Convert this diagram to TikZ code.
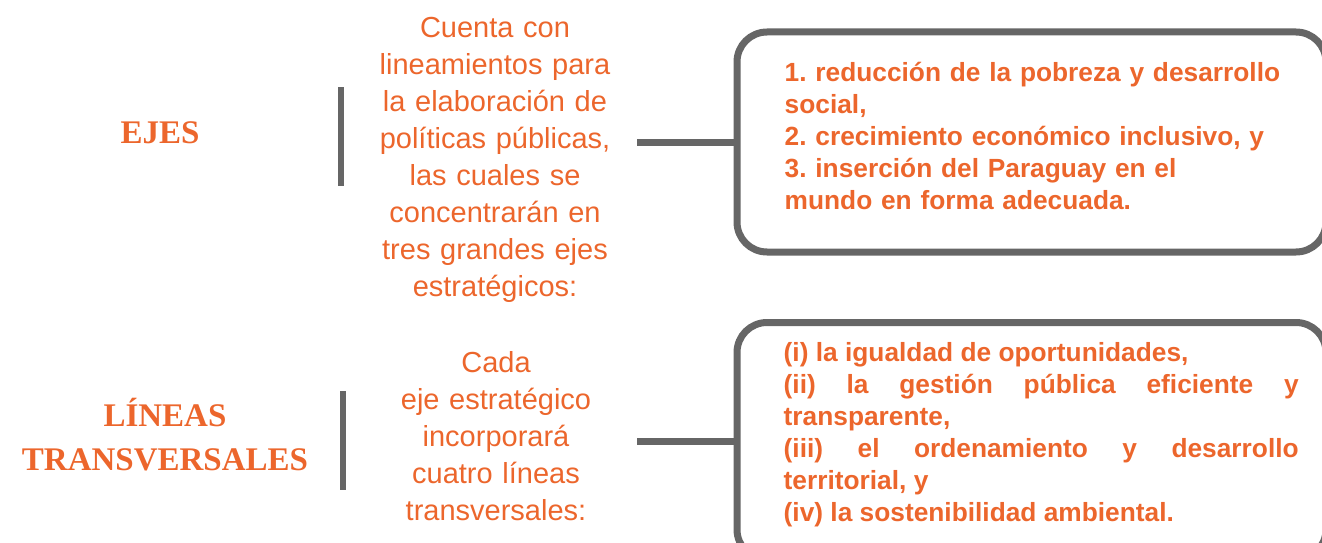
\documentclass[tikz,border=0pt]{standalone}
\usepackage{fontspec}
\setmainfont{Liberation Sans}
\newfontfamily\titlefont{Liberation Serif}
\usetikzlibrary{positioning}
\definecolor{naranja}{RGB}{236,102,44}
\definecolor{gris}{RGB}{102,102,102}
\frenchspacing

\begin{document}
\begin{tikzpicture}[x=1pt, y=-1pt,
    titulo/.style={text=naranja, font=\titlefont\bfseries\fontsize{33}{44}\selectfont, align=center},
    texto/.style={text=naranja, font=\fontsize{29}{37}\selectfont, align=center, text width=240pt, inner sep=0pt},
    lista/.style={text=naranja, font=\bfseries\fontsize{26.3}{32}\selectfont, text width=515pt, inner sep=0pt},
    caja/.style={draw=gris, line width=7pt, rounded corners=30pt, minimum width=589pt},
    barra/.style={draw=gris, line width=6pt},
    conector/.style={draw=gris, line width=7pt}]
  \useasboundingbox (0,0) rectangle (1322,543);
  \node [titulo] (ejes) at (160,133) {EJES};
  \node [titulo] (lineas) at (165,435) {LÍNEAS\\TRANSVERSALES};
  \draw [barra] (341,87) -- (341,186);
  \draw [barra] (343,391) -- (343,490);
  \node [texto] (cuenta) at (495,160) {Cuenta con\\lineamientos para\\la elaboración de\\políticas públicas,\\las cuales se\\concentrarán en\\tres grandes ejes\\estratégicos:};
  \node [texto] (cada) at (496,436) {Cada\\eje estratégico\\incorporará\\cuatro líneas\\transversales:};
  \node [caja, minimum height=220pt] (ejesbox) at (1031.5,142) {};
  \node [caja, minimum height=237pt] (lineasbox) at (1031.5,441) {};
  \node [lista, align=left, right=51pt of ejesbox.west, yshift=6pt] (ejeslista)
    {1. reducción de la pobreza y desarrollo\\social,\\2. crecimiento económico inclusivo, y\\3. inserción del Paraguay en el\\mundo en forma adecuada.};
  \node [lista, align=justify, right=50pt of lineasbox.west, yshift=6pt] (lineaslista)
    {(i) la igualdad de oportunidades,\\(ii) la gestión pública eficiente y\linebreak transparente,\\(iii) el ordenamiento y desarrollo\linebreak territorial, y\\(iv) la sostenibilidad ambiental.};
  \draw [conector] (cuenta.east |- ejesbox.west) ++(22,0) -- (ejesbox.west);
  \draw [conector] (cada.east |- lineasbox.west) ++(21,0) -- (lineasbox.west);
\end{tikzpicture}
\end{document}
